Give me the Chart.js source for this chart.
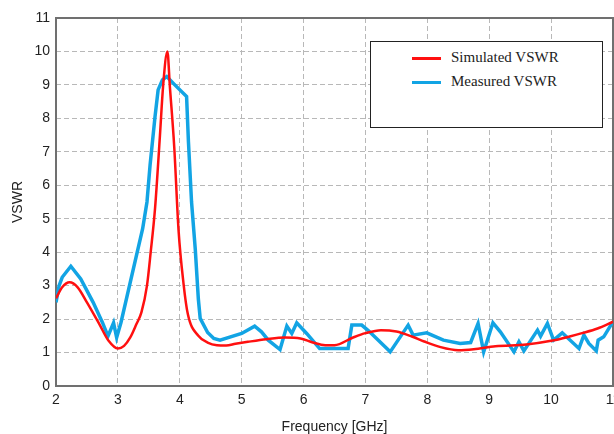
<!DOCTYPE html>
<html>
<head>
<meta charset="utf-8">
<script src="https://cdn.jsdelivr.net/npm/chart.js@4.4.1/dist/chart.umd.min.js"></script>
<style>
    html, body { margin: 0; padding: 0; background: #fff; overflow: hidden; }
    #wrap { position: relative; width: 614px; height: 434px; }
    #legend {
        position: absolute; left: 370px; top: 41px; width: 231px; height: 85px;
        border: 1px solid #222; background: #fff;
        font-family: "Liberation Serif", "Times New Roman", serif; font-size: 15px; color: #222;
    }
    .item { position: absolute; left: 41px; height: 20px; line-height: 20px; white-space: nowrap; }
    .swatch { display: inline-block; width: 29px; height: 3px; vertical-align: middle; margin-right: 10px; }
</style>
</head>
<body>
<div id="wrap">
    <canvas id="vswr" width="614" height="434"></canvas>
    <div id="legend">
        <div class="item" style="top:5px"><span class="swatch" style="background:#ff1010"></span>Simulated VSWR</div>
        <div class="item" style="top:29px"><span class="swatch" style="background:#12a4e4"></span>Measured VSWR</div>
    </div>
</div>
<script>
// simulated curve (red)
const sim_freq = [2.0, 2.1, 2.22, 2.35, 2.5, 2.7, 2.85, 3.0, 3.1, 3.2, 3.3, 3.38, 3.47, 3.53, 3.6, 3.68, 3.73, 3.8,
    3.84, 3.91, 3.98, 4.06, 4.13, 4.3, 4.45, 4.6, 4.75, 4.9, 5.1, 5.4, 5.7, 5.95, 6.15, 6.35, 6.5, 6.8, 7.0, 7.25,
    7.5, 7.75, 7.95, 8.2, 8.5, 8.75, 9.1, 9.6, 10.0, 10.3, 10.5, 10.75, 11.0];
const sim_vswr = [2.62, 2.95, 3.1, 2.95, 2.5, 1.85, 1.35, 1.12, 1.2, 1.45, 1.85, 2.2, 3.0, 4.0, 5.3, 7.5, 8.95, 10.0,
    8.95, 7.16, 4.66, 3.07, 2.15, 1.5, 1.3, 1.22, 1.21, 1.26, 1.32, 1.4, 1.45, 1.42, 1.3, 1.22, 1.22, 1.45, 1.58, 1.67,
    1.63, 1.48, 1.33, 1.17, 1.07, 1.1, 1.19, 1.24, 1.35, 1.48, 1.58, 1.72, 1.92];

// measured curve (blue)
const meas_freq = [2.0, 2.05, 2.1, 2.24, 2.4, 2.6, 2.75, 2.84, 2.93, 2.98, 3.05, 3.4, 3.47, 3.52, 3.6, 3.65, 3.72,
    3.79, 3.92, 4.11, 4.14, 4.19, 4.25, 4.3, 4.33, 4.45, 4.55, 4.65, 5.0, 5.21, 5.32, 5.43, 5.62, 5.73, 5.81, 5.89,
    6.05, 6.26, 6.72, 6.78, 6.94, 7.05, 7.4, 7.69, 7.77, 7.99, 8.26, 8.53, 8.7, 8.82, 8.91, 9.06, 9.18, 9.4, 9.48,
    9.56, 9.78, 9.83, 9.94, 10.04, 10.18, 10.45, 10.53, 10.61, 10.73, 10.76, 10.85, 11.0];
const meas_vswr = [2.5, 3.0, 3.25, 3.58, 3.2, 2.5, 1.9, 1.49, 1.89, 1.45, 1.9, 4.7, 5.5, 6.6, 8.05, 8.85, 9.15,
    9.25, 9.0, 8.65, 7.3, 5.5, 4.1, 2.6, 2.02, 1.6, 1.42, 1.37, 1.57, 1.79, 1.62, 1.37, 1.09, 1.79, 1.57, 1.89,
    1.57, 1.12, 1.12, 1.82, 1.82, 1.65, 1.02, 1.82, 1.52, 1.59, 1.37, 1.27, 1.3, 1.87, 1.02, 1.89, 1.62, 1.02, 1.32,
    1.05, 1.67, 1.49, 1.87, 1.37, 1.59, 1.12, 1.52, 1.27, 1.05, 1.37, 1.47, 1.92];

const x_min = 2, x_max = 11;
const y_min = 0, y_max = 11;

const toPoints = (xs, ys) => xs.map((x, i) => ({x: x, y: ys[i]}));

// box round the plot area (top and right included)
const frame_plugin = {
    id: 'frame',
    beforeDatasetsDraw(chart) {
        const {ctx, chartArea: a} = chart;
        ctx.save();
        ctx.strokeStyle = '#707070';
        ctx.lineWidth = 2;
        ctx.strokeRect(a.left, a.top, a.right - a.left, a.bottom - a.top);
        ctx.restore();
    }
};

const tick_font = {family: '"Liberation Sans", Arial, sans-serif', size: 14};

const config = {
    type: 'line',
    data: {
        datasets: [{
            label: 'Simulated VSWR',
            data: toPoints(sim_freq, sim_vswr),
            borderColor: '#ff1010',
            borderWidth: 2.5,
            pointRadius: 0,
            cubicInterpolationMode: 'monotone',
            fill: false
        },
        {
            label: 'Measured VSWR',
            data: toPoints(meas_freq, meas_vswr),
            borderColor: '#12a4e4',
            borderWidth: 3.5,
            pointRadius: 0,
            tension: 0,
            fill: false
        }]
    },
    options: {
        responsive: false,
        animation: false,
        layout: {
            padding: {top: 18, right: 1, bottom: 0, left: 0}
        },
        plugins: {
            legend: {display: false},
            tooltip: {enabled: false}
        },
        scales: {
            x: {
                type: 'linear',
                min: x_min,
                max: x_max,
                ticks: {stepSize: 1, color: '#222', font: tick_font, padding: 6, maxRotation: 0},
                grid: {color: '#b8b8b8', drawTicks: false},
                border: {display: false, dash: [5, 3]},
                title: {display: true, text: 'Frequency [GHz]', color: '#222', font: tick_font, padding: {top: 4, bottom: -2}},
                afterFit: (s) => { s.paddingRight = 0; s.height = 48; }
            },
            y: {
                min: y_min,
                max: y_max,
                ticks: {stepSize: 1, color: '#222', font: tick_font, padding: 6},
                grid: {color: '#b8b8b8', drawTicks: false},
                border: {display: false, dash: [5, 3]},
                title: {display: true, text: 'VSWR', color: '#222', font: tick_font, padding: {top: 10, bottom: 4}},
                afterFit: (s) => { s.width = 56; }
            }
        }
    },
    plugins: [frame_plugin]
};

const vswr_chart = new Chart(document.getElementById('vswr').getContext('2d'), config);
</script>
</body>
</html>
